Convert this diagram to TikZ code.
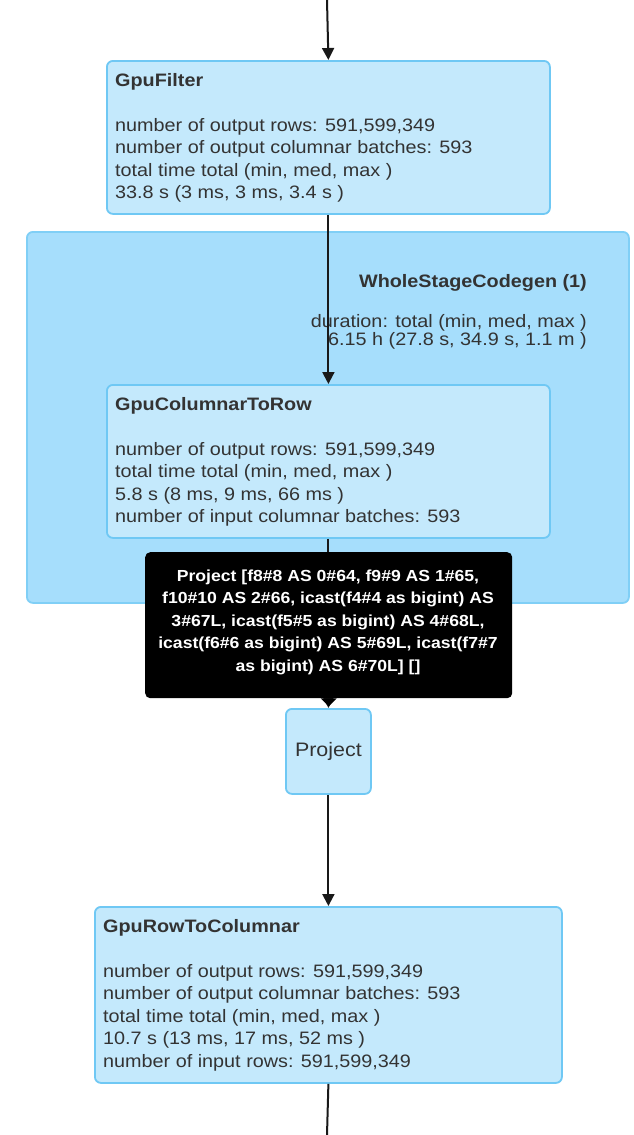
\documentclass[tikz,border=0pt]{standalone}
\usepackage{fontspec}
\setmainfont{Liberation Sans}[FakeStretch=1.1]
\usetikzlibrary{arrows.meta}
\definecolor{boxfill}{HTML}{C4E9FC}
\definecolor{boxline}{HTML}{6FC8F4}
\definecolor{clfill}{HTML}{A6DEFC}
\definecolor{clline}{HTML}{80CFF6}
\definecolor{txt}{HTML}{333333}
\begin{document}
\begin{tikzpicture}[x=1pt,y=-1pt,
  opbox/.style={draw=boxline,fill=boxfill,line width=1.8pt,rounded corners=6pt,anchor=north west,inner sep=0pt},
  cluster/.style={draw=clline,fill=clfill,line width=1.8pt,rounded corners=6pt,anchor=north west,inner sep=0pt},
  txtnode/.style={anchor=north west,inner sep=0pt,align=left,text=txt,font=\fontsize{18}{22.5}\selectfont},
  arr/.style={draw=black!90,line width=2pt,-{Triangle[length=12pt,width=12pt]}},
  plain/.style={draw=black!90,line width=2pt},
  tipbox/.style={fill=black,rounded corners=5pt,anchor=north west,inner sep=0pt}
]
\useasboundingbox (0,0) rectangle (634,1135);
\fill[white] (0,0) rectangle (634,1135);

\coordinate (top) at (327,0);
\coordinate (bot) at (327,1135);

% cluster
\node[cluster,minimum width=602pt,minimum height=371pt] (wsc) at (26,231) {};
\node[anchor=east,inner sep=0pt,text=txt,font=\bfseries\fontsize{18}{22.5}\selectfont] (wsct) at (587,283) {WholeStageCodegen (1)};
\node[anchor=east,inner sep=0pt,align=right,text=txt,font=\fontsize{18}{18.5}\selectfont] (wscd) at (587,332) {duration: total (min, med, max )\\6.15 h (27.8 s, 34.9 s, 1.1 m )};

% GpuFilter
\node[opbox,minimum width=443pt,minimum height=153pt] (filter) at (106,60) {};
\node[txtnode] (filtert) at (115,73) {\textbf{GpuFilter}\\[22.5pt]number of output rows: 591,599,349\\number of output columnar batches: 593\\total time total (min, med, max )\\33.8 s (3 ms, 3 ms, 3.4 s )};

% GpuColumnarToRow
\node[opbox,minimum width=443pt,minimum height=153pt] (ctr) at (106,384) {};
\node[txtnode] (ctrt) at (115,397) {\textbf{GpuColumnarToRow}\\[22.5pt]number of output rows: 591,599,349\\total time total (min, med, max )\\5.8 s (8 ms, 9 ms, 66 ms )\\number of input columnar batches: 593};

% Project
\node[opbox,minimum width=85pt,minimum height=85pt,text=txt,font=\fontsize{19.5}{22}\selectfont] (proj) at (285,708) {Project};

% GpuRowToColumnar
\node[opbox,minimum width=467pt,minimum height=176pt] (rtc) at (94,906) {};
\node[txtnode] (rtct) at (103,919) {\textbf{GpuRowToColumnar}\\[22.5pt]number of output rows: 591,599,349\\number of output columnar batches: 593\\total time total (min, med, max )\\10.7 s (13 ms, 17 ms, 52 ms )\\number of input rows: 591,599,349};

% connectors
\draw[arr] (top) -- (filter.north);
\draw[arr] (filter.south) -- (ctr.north);
\draw[arr] (ctr.south) -- (proj.north);
\draw[arr] (proj.south) -- (rtc.north);
\draw[plain] (rtc.south) -- (bot);

% tooltip
\node[tipbox,minimum width=367pt,minimum height=146pt] (tip) at (145,552) {};
\fill[black] ([xshift=-8pt]tip.south) -- ([yshift=-8pt]tip.south) -- ([xshift=8pt]tip.south) -- cycle;
\node[align=center,inner sep=0pt,text=white,font=\bfseries\fontsize{16}{22.5}\selectfont] (tipt) at (328,622) {Project [f8\#8 AS 0\#64, f9\#9 AS 1\#65,\\f10\#10 AS 2\#66, icast(f4\#4 as bigint) AS\\3\#67L, icast(f5\#5 as bigint) AS 4\#68L,\\icast(f6\#6 as bigint) AS 5\#69L, icast(f7\#7\\as bigint) AS 6\#70L] []};
\end{tikzpicture}
\end{document}
